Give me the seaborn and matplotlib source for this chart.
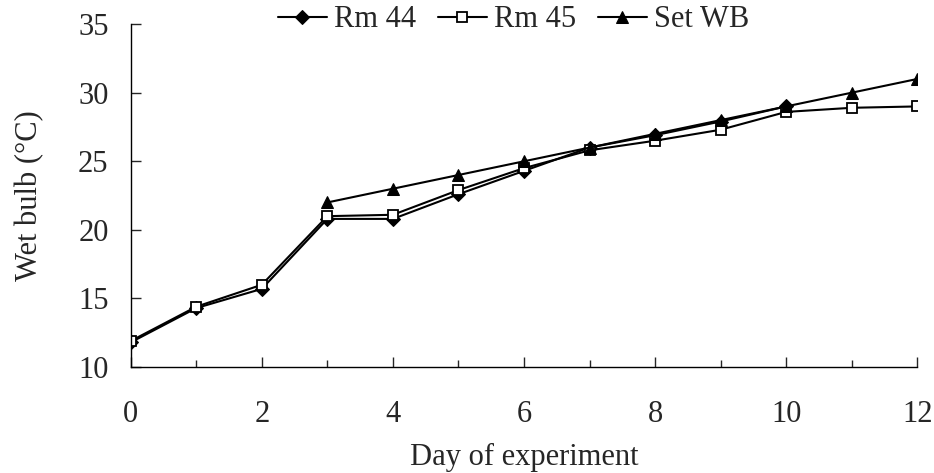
import numpy as np
import pandas as pd
import seaborn as sns
import matplotlib.pyplot as plt
from matplotlib.ticker import MultipleLocator

days_rm44 = [0, 1, 2, 3, 4, 5, 6, 7, 8, 9, 10]
rm44 = [11.8, 14.3, 15.7, 20.8, 20.8, 22.6, 24.3, 26.0, 26.9, 27.9, 29.0]
days_rm45 = [0, 1, 2, 3, 4, 5, 6, 7, 8, 9, 10, 11, 12]
rm45 = [11.9, 14.4, 16.0, 21.0, 21.1, 22.9, 24.5, 25.8, 26.5, 27.3, 28.6, 28.9, 29.0]
days_set = [3, 4, 5, 6, 7, 8, 9, 10, 11, 12]
set_wb = [22.0, 23.0, 24.0, 25.0, 26.0, 27.0, 28.0, 29.0, 30.0, 31.0]

sns.set_style("ticks")
plt.rcParams["font.family"] = ["Liberation Serif", "DejaVu Serif"]
plt.rcParams["xtick.direction"] = "in"
plt.rcParams["ytick.direction"] = "in"

fig = plt.figure(figsize=(9.34, 4.73), dpi=100)
ax = fig.add_axes([0.140, 0.224, 0.842, 0.725])

sns.lineplot(x=days_rm44, y=rm44, ax=ax, color="black", lw=1.5, marker="D",
             markersize=7, mfc="black", mec="black", label="Rm 44")
sns.lineplot(x=days_rm45, y=rm45, ax=ax, color="black", lw=1.5, marker="s",
             markersize=7, mfc="white", mec="black", mew=1.3, label="Rm 45")
sns.lineplot(x=days_set, y=set_wb, ax=ax, color="black", lw=1.5, marker="^",
             markersize=9, mfc="black", mec="black", label="Set WB")

ax.set_xlim(0, 12)
ax.set_ylim(10, 35)
ax.xaxis.set_major_locator(MultipleLocator(2))
ax.xaxis.set_minor_locator(MultipleLocator(1))
ax.yaxis.set_major_locator(MultipleLocator(5))
ax.tick_params(axis="x", which="major", length=7, width=1, pad=24, labelsize=22)
ax.tick_params(axis="x", which="minor", length=5, width=1)
ax.tick_params(axis="y", which="major", length=7, width=1, pad=16, labelsize=22)
for s in ["top", "right"]:
    ax.spines[s].set_visible(False)
for s in ["left", "bottom"]:
    ax.spines[s].set_linewidth(1)
    ax.spines[s].set_color("black")

ax.set_xlabel("Day of experiment", fontsize=22, labelpad=10)
ax.set_ylabel("Wet bulb (°C)", fontsize=22, labelpad=24)

ax.legend(loc="center", bbox_to_anchor=(0.55, 0.958), bbox_transform=fig.transFigure,
          ncol=3, frameon=False, fontsize=22, handlelength=1.6, handletextpad=0.25,
          columnspacing=0.7, borderpad=0)

fig.savefig("out.png", dpi=100)
